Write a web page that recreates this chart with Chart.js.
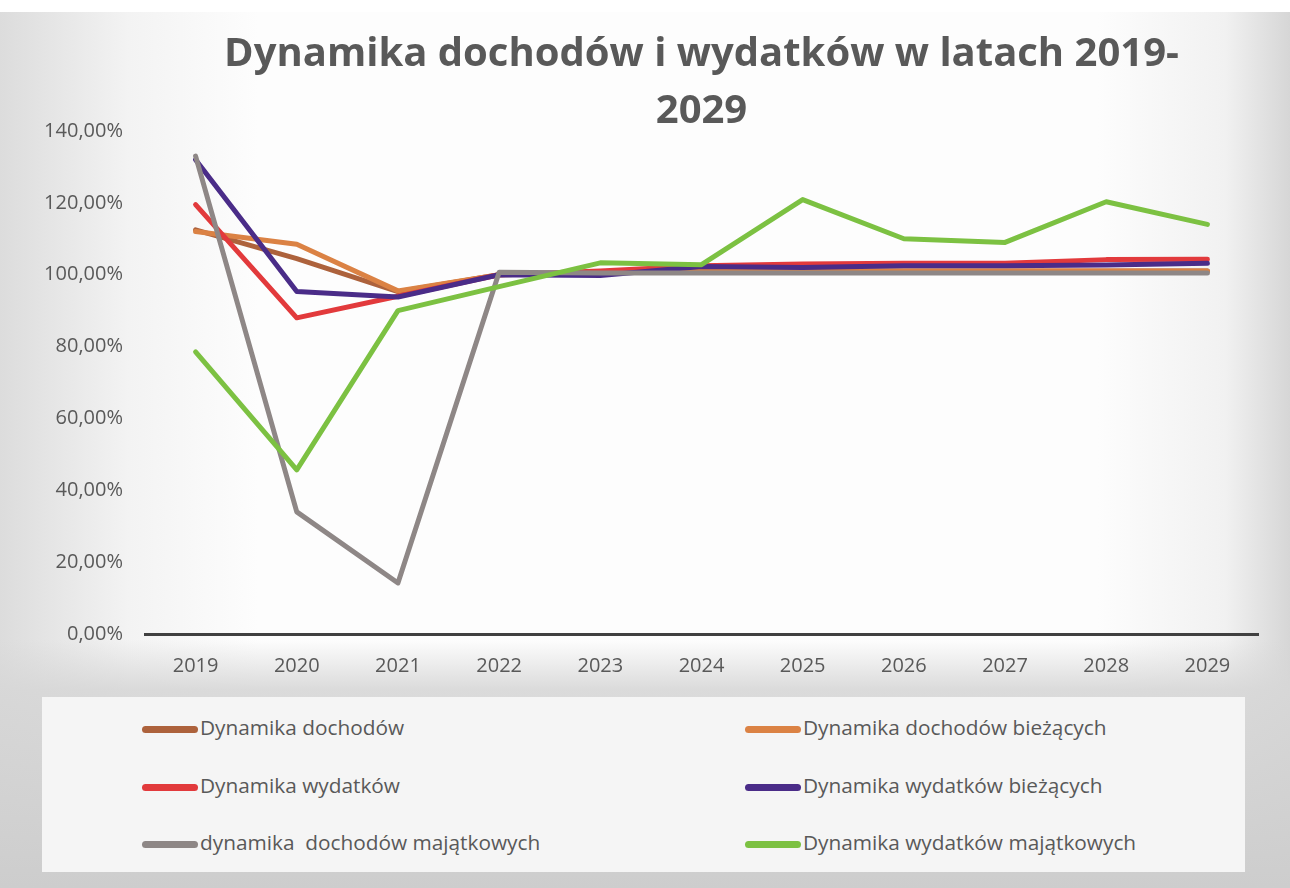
<!DOCTYPE html>
<html>
<head>
<meta charset="utf-8">
<script src="https://cdn.jsdelivr.net/npm/chart.js@4"></script>
<style>
  html, body { margin: 0; padding: 0; background: #e2e2e2; }
  #wrap { position: relative; width: 1290px; height: 888px; overflow: hidden; }
  #chart { position: absolute; left: 0; top: 0; }
  #legend {
    position: absolute; left: 42px; top: 697px; width: 1203px; height: 175px;
    background: #f5f5f5; font-family: "Open Sans", sans-serif; font-size: 20.8px; color: #595959;
  }
  .item { position: absolute; height: 30px; line-height: 30px; white-space: pre; }
  .item span.swatch {
    display: inline-block; width: 56px; height: 7px; border-radius: 3.5px;
    vertical-align: middle; margin-right: 2px;
  }
</style>
</head>
<body>
<div id="wrap">
  <canvas id="chart" width="1290" height="888"></canvas>
  <div id="legend"></div>
</div>
<script>
const years = ['2019', '2020', '2021', '2022', '2023', '2024', '2025', '2026', '2027', '2028', '2029'];

const dochody = [112.5, 104.5, 95.3, 100.0, 100.5, 101.0, 101.0, 101.0, 101.0, 101.0, 101.0];
const dochodyBiezace = [112.0, 108.5, 95.5, 100.0, 100.5, 101.0, 101.0, 101.0, 101.0, 101.0, 101.0];
const wydatki = [119.5, 88.0, 94.0, 100.0, 101.0, 102.5, 103.0, 103.2, 103.2, 104.2, 104.3];
const wydatkiBiezace = [132.0, 95.3, 93.8, 100.0, 99.8, 102.3, 102.0, 102.5, 102.5, 102.7, 103.2];
const dochodyMajatkowe = [133.0, 34.0, 14.2, 100.7, 100.5, 100.5, 100.5, 100.5, 100.5, 100.5, 100.5];
const wydatkiMajatkowe = [78.5, 45.7, 90.0, 96.7, 103.3, 102.8, 120.9, 110.0, 109.0, 120.3, 114.0];

const seriesNames = [
    'Dynamika dochodów',
    'Dynamika dochodów bieżących',
    'Dynamika wydatków',
    'Dynamika wydatków bieżących',
    'dynamika  dochodów majątkowych',
    'Dynamika wydatków majątkowych'
];
const seriesColors = ['#ad623c', '#db8244', '#e23a3c', '#4a2c88', '#8e8786', '#7cc142'];
const seriesData = [dochody, dochodyBiezace, wydatki, wydatkiBiezace, dochodyMajatkowe, wydatkiMajatkowe];

const yTicks = [0, 20, 40, 60, 80, 100, 120, 140];

const grey = '#595959';
const font = '"Open Sans", sans-serif';

const background = {
    id: 'background',
    beforeDraw(chart) {
        const ctx = chart.ctx;
        ctx.save();
        const g = ctx.createLinearGradient(0, 0, 1290, 0);
        g.addColorStop(0, '#dcdcdc');
        g.addColorStop(0.1, '#f3f3f3');
        g.addColorStop(0.2, '#fdfdfd');
        g.addColorStop(0.85, '#fdfdfd');
        g.addColorStop(0.95, '#f1f1f1');
        g.addColorStop(1, '#d6d6d6');
        ctx.fillStyle = g;
        ctx.fillRect(0, 0, 1290, 888);
        const v = ctx.createLinearGradient(0, 640, 0, 888);
        v.addColorStop(0, 'rgba(215,215,215,0)');
        v.addColorStop(0.2, 'rgba(215,215,215,0.9)');
        v.addColorStop(1, 'rgba(205,205,205,1)');
        ctx.fillStyle = v;
        ctx.fillRect(0, 640, 1290, 248);
        ctx.fillStyle = '#ffffff';
        ctx.fillRect(0, 0, 1290, 12);
        ctx.restore();
    }
};

const ctx = document.getElementById('chart').getContext('2d');
const chart = new Chart(ctx, {
    type: 'line',
    data: {
        labels: years,
        datasets: seriesData.map(function (d, i) {
            return {
                label: seriesNames[i],
                data: d,
                borderColor: seriesColors[i],
                backgroundColor: seriesColors[i],
                borderWidth: 5,
                borderCapStyle: 'round',
                borderJoinStyle: 'round',
                pointRadius: 0,
                tension: 0,
                order: 6 - i
            };
        })
    },
    options: {
        responsive: false,
        animation: false,
        layout: { padding: { left: 0, right: 32, top: 0, bottom: 198 } },
        plugins: {
            legend: { display: false },
            tooltip: { enabled: false },
            title: {
                display: true,
                fullSize: false,
                text: ['Dynamika dochodów i wydatków w latach 2019-', '2029'],
                color: grey,
                font: { family: font, size: 40, weight: 'bold', lineHeight: 1.425 },
                padding: { top: 26, bottom: -9 }
            }
        },
        scales: {
            x: {
                offset: true,
                grid: { display: false, drawTicks: false, offset: true },
                border: { display: true, color: '#404040', width: 3 },
                ticks: { color: grey, font: { family: font, size: 20 }, padding: 20 },
                afterFit(scale) { scale.height = 56; }
            },
            y: {
                min: 0,
                max: 140,
                grid: { display: false, drawTicks: false },
                border: { display: false },
                afterBuildTicks(scale) { scale.ticks = yTicks.map(v => ({ value: v })); },
                ticks: {
                    color: grey,
                    font: { family: font, size: 20 },
                    padding: 22,
                    callback: v => v.toFixed(2).replace('.', ',') + '%'
                },
                afterFit(scale) { scale.width = 145; }
            }
        }
    },
    plugins: [background]
});

// legend in two columns, like the original
const legend = document.getElementById('legend');
const legendPos = [[100, 15], [703, 15], [100, 73], [703, 73], [100, 130], [703, 130]];
chart.data.datasets.forEach(function (ds, i) {
    const el = document.createElement('div');
    el.className = 'item';
    el.style.left = legendPos[i][0] + 'px';
    el.style.top = legendPos[i][1] + 'px';
    const sw = document.createElement('span');
    sw.className = 'swatch';
    sw.style.background = ds.borderColor;
    el.appendChild(sw);
    el.appendChild(document.createTextNode(ds.label));
    legend.appendChild(el);
});
</script>
</body>
</html>
